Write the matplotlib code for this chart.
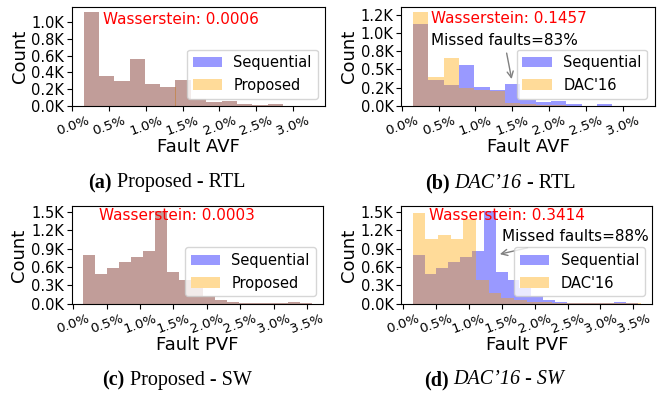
import numpy as np
import matplotlib
matplotlib.use("Agg")
from matplotlib import pyplot as plt
from matplotlib.ticker import FuncFormatter, PercentFormatter, MultipleLocator

# bin ranges (percent)
avf_range = (0.15, 3.28)
avf_bins = 15
pvf_seq_range = (0.147, 3.57)
pvf_seq_bins = 19
pvf_dac_range = (0.147, 3.615)
pvf_dac_bins = 18

# histogram counts per bin
seq_avf = [1125, 360, 292, 556, 262, 222, 306, 85, 50, 60, 20, 4, 20, 0, 3]
prop_avf = [1125, 360, 298, 556, 262, 222, 306, 85, 50, 60, 20, 4, 20, 0, 3]
dac_avf = [1290, 400, 659, 245, 212, 200, 40, 28, 12, 8, 4, 2, 1, 0, 1]

seq_pvf = [800, 486, 586, 680, 763, 862, 1517, 513, 385, 250, 131, 65, 33, 11, 11, 16, 11, 22, 16]
prop_pvf = [800, 486, 586, 680, 763, 862, 1517, 513, 385, 250, 131, 65, 33, 11, 11, 16, 11, 22, 16]
dac_pvf = [1490, 1053, 1124, 1053, 1386, 382, 180, 95, 60, 35, 25, 15, 10, 8, 8, 5, 5, 4]

wasserstein = ["0.0006", "0.1457", "0.0003", "0.3414"]
missed = {1: "Missed faults=83%", 3: "Missed faults=88%"}

W, H = 666, 394
fig = plt.figure(figsize=(W / 100, H / 100), dpi=100)

# axes boxes in pixels: left, top, right, bottom
boxes = [(72, 7.3, 325, 105.8), (401.3, 7.3, 654.7, 105.8),
         (71.7, 206.3, 323, 303.7), (401.3, 206.3, 652.3, 303.7)]
axes = []
for l, t, r, b in boxes:
    axes.append(fig.add_axes([l / W, 1 - b / H, (r - l) / W, (b - t) / H]))


def hist(ax, rng, nbins, counts, color, label):
    edges = np.linspace(rng[0], rng[1], nbins + 1)
    ax.hist(edges[:-1], bins=edges, weights=counts, color=color, alpha=0.4, label=label)


panels = [
    (avf_range, avf_bins, seq_avf, avf_range, avf_bins, prop_avf, "Proposed", "Fault AVF"),
    (avf_range, avf_bins, seq_avf, avf_range, avf_bins, dac_avf, "DAC'16", "Fault AVF"),
    (pvf_seq_range, pvf_seq_bins, seq_pvf, pvf_seq_range, pvf_seq_bins, prop_pvf, "Proposed", "Fault PVF"),
    (pvf_seq_range, pvf_seq_bins, seq_pvf, pvf_dac_range, pvf_dac_bins, dac_pvf, "DAC'16", "Fault PVF"),
]
yticks = [np.arange(0, 1001, 200), np.arange(0, 1251, 250), np.arange(0, 1501, 300), np.arange(0, 1501, 300)]
w_pos = [(0.121, 0.872), (0.116, 0.888), (0.11, 0.908), (0.11, 0.908)]

for i, (ax, p) in enumerate(zip(axes, panels)):
    r1, n1, c1, r2, n2, c2, other, xlabel = p
    hist(ax, r1, n1, c1, "blue", "Sequential")
    hist(ax, r2, n2, c2, "orange", other)
    ax.set_yticks(yticks[i])
    ax.yaxis.set_major_formatter(FuncFormatter(lambda v, pos: f"{v / 1000:.1f}K"))
    ax.xaxis.set_major_locator(MultipleLocator(0.5))
    ax.xaxis.set_major_formatter(PercentFormatter(xmax=100, decimals=1))
    ax.tick_params(axis="y", labelsize=10.5, pad=2)
    ax.tick_params(axis="x", labelsize=9.6, pad=2.5)
    plt.setp(ax.get_xticklabels(), rotation=20)
    ax.set_xlabel(xlabel, fontsize=13, va="center")
    ax.xaxis.set_label_coords(0.5, -0.42)
    ax.set_ylabel("Count", fontsize=13, labelpad=2)
    ax.legend(loc="lower right", fontsize=10.5)
    ax.text(w_pos[i][0], w_pos[i][1], "Wasserstein: " + wasserstein[i], color="red",
            fontsize=11, transform=ax.transAxes, va="center")

axes[1].annotate(missed[1], xy=(1.5, 330), xycoords="data",
                 xytext=(0.116, 0.667), textcoords="axes fraction", fontsize=11,
                 va="center", arrowprops=dict(arrowstyle="->", color="gray"))
axes[3].annotate(missed[3], xy=(1.43, 800), xycoords="data",
                 xytext=(0.401, 0.685), textcoords="axes fraction", fontsize=11,
                 va="center", arrowprops=dict(arrowstyle="->", color="gray"))

# sub-captions with mixed styles
captions = [
    (166.5, 183, [("(a)", dict(weight="bold")), ("Proposed - RTL", {})]),
    (500, 183, [("(b)", dict(weight="bold")), ("DAC\u201916", dict(style="italic")), ("- RTL", {})]),
    (177, 380, [("(c)", dict(weight="bold")), ("Proposed - SW", {})]),
    (494, 380, [("(d)", dict(weight="bold")), ("DAC\u201916 - SW", dict(style="italic"))]),
]
cap_size = 14.5
gap = 0.25 * cap_size * 100 / 72
renderer = fig.canvas.get_renderer()
for xc, yc, parts in captions:
    texts = [fig.text(0, 1 - yc / H, s, fontsize=cap_size, family="Liberation Serif",
                      va="center", **kw) for s, kw in parts]
    widths = [t.get_window_extent(renderer).width for t in texts]
    x = xc - (sum(widths) + gap * (len(texts) - 1)) / 2
    for t, w in zip(texts, widths):
        t.set_x(x / W)
        x += w + gap

fig.savefig("out.png", dpi=100)
